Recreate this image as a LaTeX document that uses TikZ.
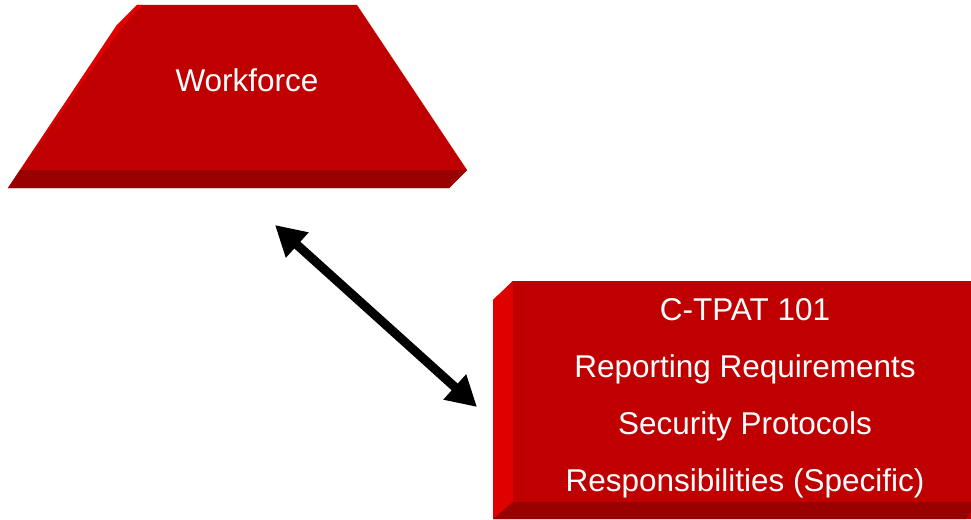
\documentclass[tikz,border=0pt]{standalone}
\usepackage{fontspec}
\setmainfont{Liberation Sans}
\usetikzlibrary{arrows.meta}
\definecolor{facered}{RGB}{192,0,0}
\definecolor{lightred}{RGB}{224,0,0}
\definecolor{darkred}{RGB}{153,0,0}
\begin{document}
\begin{tikzpicture}[x=1pt,y=-1pt]
	\tikzset{face/.style={fill=facered}}
	\tikzset{lightside/.style={fill=lightred}}
	\tikzset{darkside/.style={fill=darkred}}
	\tikzset{label text/.style={text=white,font=\fontsize{31.5}{57}\selectfont,align=center}}
	\useasboundingbox (0,0) rectangle (971,519);
	% workforce trapezoid
	\fill[face] (8,188) -- (117,25) -- (137,5) -- (357,5) -- (467,170) -- (449,188) -- cycle;
	\fill[lightside] (8,188) -- (117,25) -- (137,5) -- (142,5) -- (123,26) -- (20,170) -- cycle;
	\fill[darkside] (8,188) -- (20,170) -- (467,170) -- (449,188) -- cycle;
	\node[label text] (workforce) at (247,80) {Workforce};
	% c-tpat box
	\fill[face] (493,300) -- (513,281) -- (971,281) -- (971,519) -- (493,519) -- cycle;
	\fill[lightside] (493,300) -- (513,281) -- (513,502) -- (493,519) -- cycle;
	\fill[darkside] (493,519) -- (513,502) -- (971,502) -- (971,512) -- (966,519) -- cycle;
	\node[label text] (ctpat) at (745,398) {C-TPAT 101\\Reporting Requirements\\Security Protocols\\Responsibilities (Specific)};
	% arrow
	\coordinate (upper) at (275,225);
	\coordinate (lower) at (477,407);
	\draw[line width=9pt,{Triangle[length=30pt,width=32pt]}-{Triangle[length=30pt,width=32pt]}] (upper) -- (lower);
\end{tikzpicture}
\end{document}
